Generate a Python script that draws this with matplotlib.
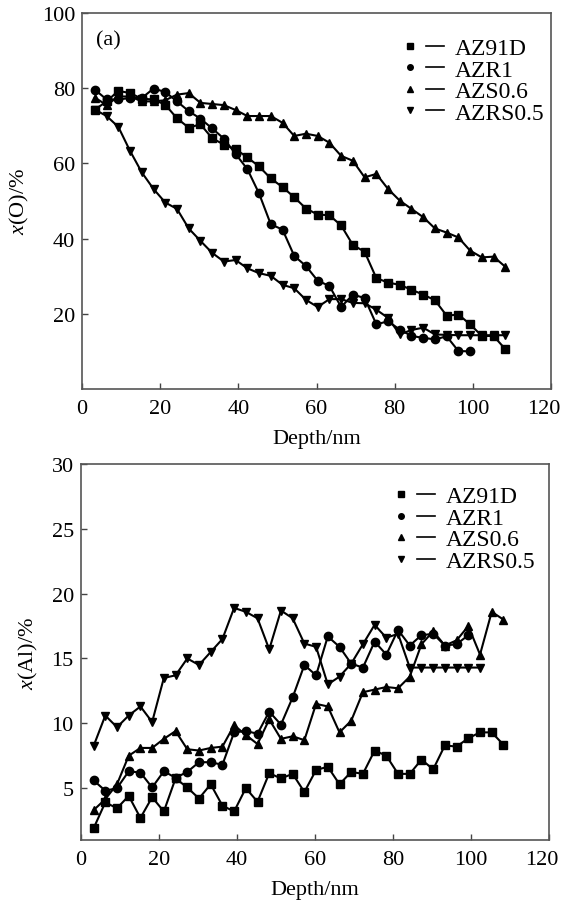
import matplotlib
matplotlib.use("Agg")
import matplotlib.pyplot as plt
import matplotlib.transforms as mtransforms
from matplotlib.lines import Line2D
from matplotlib.legend_handler import HandlerTuple

plt.rcParams["font.family"] = ["Liberation Serif", "DejaVu Serif"]
plt.rcParams["mathtext.fontset"] = "custom"
plt.rcParams["mathtext.rm"] = "Liberation Serif"
plt.rcParams["mathtext.it"] = "Liberation Serif:italic"

# sputter depth of each measurement point (nm)
depth = [3.3, 6.3, 9.3, 12.3, 15.3, 18.3, 21.3, 24.3, 27.3, 30.3, 33.3, 36.3,
         39.3, 42.3, 45.3, 48.3, 51.3, 54.3, 57.3, 60.3, 63.3, 66.3, 69.3, 72.3,
         75.3, 78.3, 81.3, 84.3, 87.3, 90.3, 93.3, 96.3, 99.3, 102.3, 105.3, 108.3]

alloys = ["AZ91D", "AZR1", "AZS0.6", "AZRS0.5"]
markers = ["s", "o", "^", "v"]

# (a) oxygen content, x(O)/%
o_az91d = [74.3, 76.5, 79.3, 78.7, 77.2, 77.0, 75.6, 72.0, 69.5, 70.4, 66.7, 65.0,
           63.8, 61.6, 59.2, 56.0, 53.7, 51.0, 48.0, 46.4, 46.2, 43.5, 38.3, 36.5,
           29.5, 28.3, 27.7, 26.4, 25.1, 23.6, 19.5, 19.8, 17.2, 14.1, 14.1, 10.6]
o_azr1 = [79.6, 77.0, 77.0, 77.4, 77.4, 79.9, 79.0, 76.5, 73.9, 71.9, 69.3, 66.6,
          62.5, 58.5, 52.0, 43.8, 42.4, 35.4, 32.7, 28.8, 27.4, 21.8, 25.1, 24.2,
          17.2, 18.0, 15.8, 14.1, 13.6, 13.2, 14.0, 10.1, 10.0]
o_azs06 = [77.5, 75.5, 77.8, 77.8, 76.5, 76.5, 76.8, 78.3, 78.7, 76.1, 75.8, 75.5,
           74.2, 72.6, 72.6, 72.6, 70.8, 67.3, 67.9, 67.3, 65.5, 62.0, 60.7, 56.3,
           57.2, 53.2, 50.1, 47.9, 45.7, 42.7, 41.6, 40.3, 36.8, 35.0, 35.2, 32.5]
o_azrs05 = [74.3, 72.6, 69.7, 63.3, 57.6, 53.2, 49.6, 47.9, 42.7, 39.4, 36.2, 33.9,
            34.3, 32.1, 30.8, 30.1, 27.7, 26.8, 23.7, 21.8, 23.9, 23.9, 22.9, 22.8,
            21.1, 18.9, 14.5, 15.7, 16.3, 14.5, 14.4, 14.3, 14.3, 14.3, 14.3, 14.3]

# (b) aluminium content, x(Al)/%
al_az91d = [1.9, 3.9, 3.45, 4.4, 2.7, 4.3, 3.2, 5.75, 5.05, 4.2, 5.3, 3.65,
            3.2, 5.0, 3.95, 6.15, 5.75, 6.1, 4.7, 6.4, 6.65, 5.3, 6.25, 6.1,
            7.9, 7.5, 6.1, 6.1, 7.2, 6.45, 8.3, 8.2, 8.85, 9.3, 9.3, 8.35]
al_azr1 = [5.6, 4.8, 5.0, 6.3, 6.2, 5.05, 6.3, 5.8, 6.25, 7.0, 7.0, 6.8,
           9.3, 9.4, 9.2, 10.9, 9.9, 12.0, 14.5, 13.7, 16.7, 15.9, 14.6, 14.3,
           16.3, 15.3, 17.2, 16.0, 16.8, 16.9, 16.0, 16.1, 16.8]
al_azs06 = [3.3, 4.15, 5.3, 7.5, 8.1, 8.1, 8.8, 9.4, 8.0, 7.9, 8.1, 8.2,
            9.85, 9.1, 8.4, 10.3, 8.8, 9.0, 8.7, 11.5, 11.3, 9.3, 10.2, 12.4,
            12.6, 12.8, 12.7, 13.6, 16.1, 17.1, 16.0, 16.4, 17.5, 15.3, 18.6, 18.0]
al_azrs05 = [8.25, 10.6, 9.7, 10.6, 11.3, 10.1, 13.5, 13.7, 15.0, 14.5, 15.5, 16.5,
             18.9, 18.6, 18.1, 15.7, 18.7, 18.1, 16.15, 15.9, 13.0, 13.6, 14.6, 16.1,
             17.6, 16.6, 16.9, 14.3, 14.3, 14.3, 14.3, 14.3, 14.3, 14.3]

o_series = [o_az91d, o_azr1, o_azs06, o_azrs05]
al_series = [al_az91d, al_azr1, al_azs06, al_azrs05]

FS = 16


def draw_panel(ax, series, ylim, yticks, ylabel, legend_anchor):
    for vals, mk in zip(series, markers):
        ax.plot(depth[:len(vals)], vals, color="black", lw=1.5,
                marker=mk, ms=6, mec="black", mfc="black")

    ax.set_xlim(0, 120)
    ax.set_ylim(*ylim)
    ax.set_xticks([0, 20, 40, 60, 80, 100, 120])
    ax.set_yticks(yticks)
    ax.tick_params(direction="in", length=4, width=1, colors="#444444",
                   labelcolor="black", labelsize=FS)
    ax.tick_params(axis="x", pad=7)
    ax.tick_params(axis="y", pad=5)
    for sp in ax.spines.values():
        sp.set_color("#555555")
        sp.set_linewidth(1.2)

    # pull the last x label in a little so it stays inside the figure
    last = ax.get_xticklabels()[-1]
    last.set_transform(last.get_transform() +
                       mtransforms.ScaledTranslation(-5 / 72, 0, ax.figure.dpi_scale_trans))

    ax.set_xlabel("Depth/nm", fontsize=FS, labelpad=8)
    ax.set_ylabel(ylabel, fontsize=FS, labelpad=8)

    # legend entries look like "marker — name"
    handles = [(Line2D([], [], marker=mk, ls="none", color="black", ms=4),
                Line2D([], [], color="black", lw=1.2)) for mk in markers]
    ax.legend(handles, alloys, handler_map={tuple: HandlerTuple(ndivide=None, pad=0.3)},
              loc="upper right", bbox_to_anchor=legend_anchor, frameon=False,
              fontsize=17, handlelength=1.8, handletextpad=0.45,
              labelspacing=0.0, borderaxespad=0, borderpad=0)


fig = plt.figure(figsize=(5.64, 9.04), dpi=100)
ax1 = fig.add_axes([0.1454, 0.5686, 0.8316, 0.4159])
ax2 = fig.add_axes([0.1431, 0.0697, 0.8305, 0.4159])

draw_panel(ax1, o_series, (0, 100), [20, 40, 60, 80, 100], r"$x$(O)/%", (0.985, 0.935))
draw_panel(ax2, al_series, (1, 30), [5, 10, 15, 20, 25, 30], r"$x$(Al)/%", (0.97, 0.942))

ax1.text(0.03, 0.955, "(a)", transform=ax1.transAxes, fontsize=FS, va="top", ha="left")

fig.savefig("out.png", dpi=100)
